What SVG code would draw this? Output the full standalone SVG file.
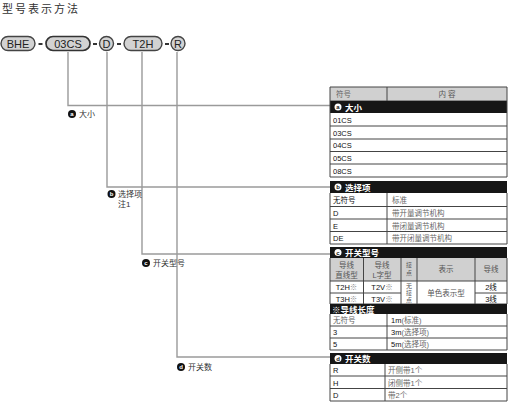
<svg xmlns="http://www.w3.org/2000/svg" width="512" height="407" viewBox="0 0 512 407">
<style>
text{font-family:"Liberation Sans","Noto Sans CJK SC",sans-serif;}
.title{font-size:11px;fill:#333;letter-spacing:2px;}
.pill{fill:#d2d2d2;stroke:#444;stroke-width:1.4;}
.pt{font-size:11px;fill:#222;text-anchor:middle;}
.dash{stroke:#333;stroke-width:2;}
.conn{fill:none;stroke:#9a9a9a;stroke-width:1.4;}
.lbl{font-size:8px;fill:#333;}
.bc{fill:#111;}
.bl{font-size:6px;fill:#fff;font-weight:bold;text-anchor:middle;}
.hd{fill:#161616;}
.ht{font-size:8.5px;fill:#fff;font-weight:bold;}
.wc{fill:#fff;}
.wl{font-size:6px;fill:#111;font-weight:bold;text-anchor:middle;}
.gh{fill:#d0d0d0;}
.ln{stroke:#444;stroke-width:1;fill:none;}
.t{font-size:7.5px;fill:#111;}
.g{font-size:7.5px;fill:#666;}
.gc{font-size:7.5px;fill:#555;text-anchor:middle;}
.c{font-size:7.5px;fill:#111;text-anchor:middle;}
.v{font-size:6px;fill:#555;text-anchor:middle;}
</style>
<text class="title" x="2" y="13">型号表示方法</text>

<g id="code">
<rect class="pill" x="1" y="36.5" width="34" height="14" rx="7"/><text class="pt" x="18" y="47.5">BHE</text>
<line class="dash" x1="38.5" y1="44" x2="42.5" y2="44"/>
<rect class="pill" x="46" y="36.5" width="44" height="14" rx="7" style="stroke:#333;stroke-width:1.7"/><text class="pt" x="68" y="47.5">03CS</text>
<line class="dash" x1="93" y1="44" x2="97" y2="44"/>
<rect class="pill" x="99.5" y="36.5" width="14" height="14" rx="7"/><text class="pt" x="106.5" y="47.5">D</text>
<line class="dash" x1="117" y1="44" x2="121" y2="44"/>
<rect class="pill" x="124" y="36.5" width="38" height="14" rx="7"/><text class="pt" x="143" y="47.5">T2H</text>
<line class="dash" x1="165" y1="44" x2="169" y2="44"/>
<rect class="pill" x="171" y="36.5" width="14" height="14" rx="7"/><text class="pt" x="178" y="47.5">R</text>
</g>

<g id="connectors">
<path class="conn" d="M68 52V105.5H330"/>
<path class="conn" d="M107 52V187H330"/>
<path class="conn" d="M142 52V254H330"/>
<path class="conn" d="M177 52V357H330"/>
</g>

<g id="labels">
<circle class="bc" cx="72" cy="114" r="4"/><text class="bl" x="72" y="116">a</text><text class="lbl" x="79" y="117">大小</text>
<circle class="bc" cx="111.5" cy="194" r="4"/><text class="bl" x="111.5" y="196">b</text><text class="lbl" x="118" y="197">选择项</text><text class="lbl" x="118" y="207">注1</text>
<circle class="bc" cx="146" cy="263" r="4"/><text class="bl" x="146" y="265">c</text><text class="lbl" x="153" y="266">开关型号</text>
<circle class="bc" cx="181" cy="367" r="4"/><text class="bl" x="181" y="369">d</text><text class="lbl" x="188" y="370">开关数</text>
</g>

<g id="table-head">
<rect class="gh" x="330" y="87" width="177" height="14"/>
<path class="ln" d="M330 87H507V101H330Z M387 87V101"/>
<text class="g" x="336" y="97">符号</text>
<text class="gc" x="447" y="97">内 容</text>
</g>

<g id="sec-a">
<rect class="hd" x="330" y="101" width="177" height="12"/>
<circle class="wc" cx="338" cy="107" r="3.5"/><text class="wl" x="338" y="109">a</text>
<text class="ht" x="345" y="110.5">大小</text>
<path class="ln" d="M330 101V177H507V101 M330 126H507 M330 139H507 M330 151.5H507 M330 164H507"/>
<text class="t" x="333" y="122.5">01CS</text>
<text class="t" x="333" y="135.5">03CS</text>
<text class="t" x="333" y="148">04CS</text>
<text class="t" x="333" y="160.5">05CS</text>
<text class="t" x="333" y="173.5">08CS</text>
</g>

<g id="sec-b">
<rect class="hd" x="330" y="181" width="177" height="12"/>
<circle class="wc" cx="338" cy="187" r="3.5"/><text class="wl" x="338" y="189">b</text>
<text class="ht" x="345" y="190.5">选择项</text>
<path class="ln" d="M330 193V244H507V193 M330 206.5H507 M330 219H507 M330 231.5H507 M387 193V244"/>
<text class="t" x="333" y="203">无符号</text><text class="g" x="392" y="203">标准</text>
<text class="t" x="333" y="216">D</text><text class="g" x="392" y="216">带开量调节机构</text>
<text class="t" x="333" y="228.5">E</text><text class="g" x="392" y="228.5">带闭量调节机构</text>
<text class="t" x="333" y="241">DE</text><text class="g" x="392" y="241">带开闭量调节机构</text>
</g>

<g id="sec-c">
<rect class="hd" x="330" y="247" width="177" height="11"/>
<circle class="wc" cx="338" cy="252.5" r="3.5"/><text class="wl" x="338" y="254.5">c</text>
<text class="ht" x="345" y="256">开关型号</text>
<rect class="gh" x="330" y="258" width="177" height="23"/>
<path class="ln" d="M330 258V304H507V258 M330 281H507 M330 293H401 M475 293H507 M363.5 258V304 M401 258V304 M417 258V304 M475 258V304"/>
<text class="gc" x="346.5" y="268">导线</text><text class="gc" x="346.5" y="278">直线型</text>
<text class="gc" x="382" y="268">导线</text><text class="gc" x="382" y="278">L字型</text>
<text class="v" x="409" y="267">接</text><text class="v" x="409" y="275">点</text>
<text class="gc" x="446" y="272">表示</text>
<text class="gc" x="491" y="272">导线</text>
<text class="c" x="346.5" y="290">T2H<tspan fill="#888">※</tspan></text>
<text class="c" x="382" y="290">T2V<tspan fill="#888">※</tspan></text>
<text class="c" x="346.5" y="301.5">T3H<tspan fill="#888">※</tspan></text>
<text class="c" x="382" y="301.5">T3V<tspan fill="#888">※</tspan></text>
<text class="v" x="409" y="288">无</text><text class="v" x="409" y="295">接</text><text class="v" x="409" y="302">点</text>
<text class="gc" x="446" y="296">单色表示型</text>
<text class="c" x="491" y="290">2线</text>
<text class="c" x="491" y="301.5">3线</text>
</g>

<g id="sec-wire">
<rect class="hd" x="330" y="304" width="177" height="10"/>
<text class="ht" x="332" y="312.5">※导线长度</text>
<path class="ln" d="M330 314V350H507V314 M330 326H507 M330 338H507 M387 314V350"/>
<text class="g" x="333" y="323">无符号</text><text class="t" x="391" y="323">1m<tspan fill="#666">(标准)</tspan></text>
<text class="t" x="333" y="335">3</text><text class="t" x="391" y="335">3m<tspan fill="#666">(选择项)</tspan></text>
<text class="t" x="333" y="347">5</text><text class="t" x="391" y="347">5m<tspan fill="#666">(选择项)</tspan></text>
</g>

<g id="sec-d">
<rect class="hd" x="330" y="353" width="177" height="11"/>
<circle class="wc" cx="338" cy="358.5" r="3.5"/><text class="wl" x="338" y="360.5">d</text>
<text class="ht" x="345" y="362">开关数</text>
<path class="ln" d="M330 364V401H507V364 M330 376H507 M330 388.5H507 M385 364V401"/>
<text class="t" x="333" y="373">R</text><text class="g" x="388" y="373">开侧带1个</text>
<text class="t" x="333" y="385.5">H</text><text class="g" x="388" y="385.5">闭侧带1个</text>
<text class="t" x="333" y="398">D</text><text class="g" x="388" y="398">带2个</text>
</g>
</svg>
